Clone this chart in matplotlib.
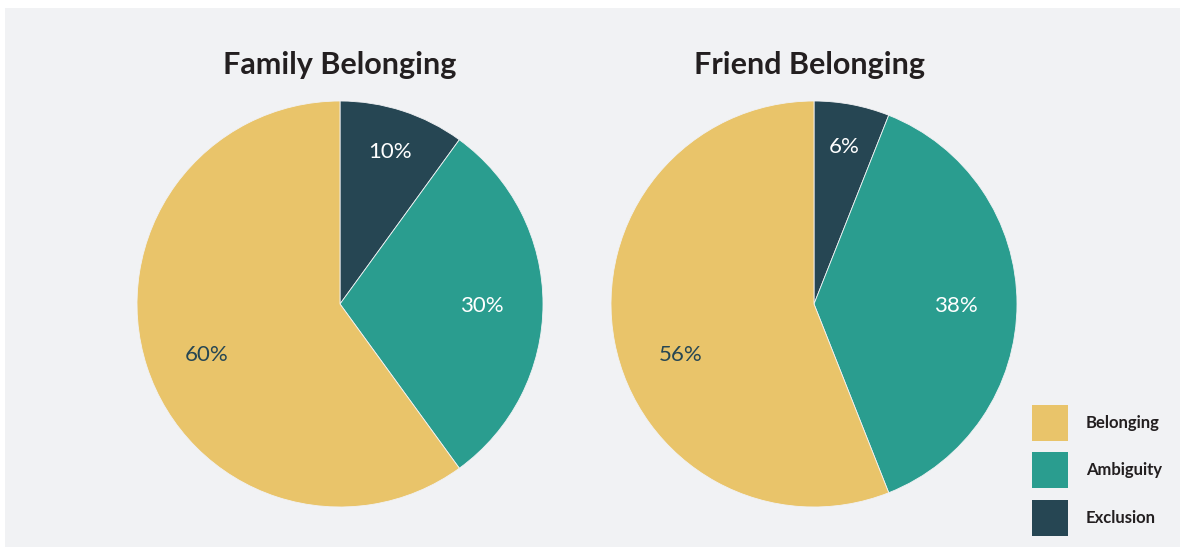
import matplotlib
matplotlib.use("Agg")
import matplotlib.pyplot as plt
from matplotlib.patches import Rectangle
import numpy as np

categories = ["Exclusion", "Ambiguity", "Belonging"]
family_values = [10, 30, 60]
friend_values = [6, 38, 56]
titles = ["Family Belonging", "Friend Belonging"]
legend_order = ["Belonging", "Ambiguity", "Exclusion"]

colors = {"Belonging": "#E9C46A", "Ambiguity": "#2A9D8F", "Exclusion": "#264653"}
label_colors = {"Belonging": "#264653", "Ambiguity": "white", "Exclusion": "white"}

W, H = 1180, 553
fig = plt.figure(figsize=(W / 100, H / 100), dpi=100)
fig.patch.set_facecolor("white")

bg = fig.add_axes([5 / W, (H - 547) / H, (W - 5) / W, (547 - 8) / H], zorder=-5)
bg.set_facecolor("#F1F2F4")
bg.set_xticks([]); bg.set_yticks([])
for s in bg.spines.values():
    s.set_visible(False)

FONT = "Lato"
centers = [340, 814]
R = 203
cy = 304
title_x = [340, 810]

for i, (vals, title) in enumerate(zip([family_values, friend_values], titles)):
    cx = centers[i]
    ax = fig.add_axes([(cx - R) / W, (H - cy - R) / H, 2 * R / W, 2 * R / H])
    ax.set_facecolor("none")
    wedges, _ = ax.pie(vals, colors=[colors[c] for c in categories], startangle=90,
                       counterclock=False, radius=1,
                       wedgeprops=dict(linewidth=0.6, edgecolor="#F1F2F4"))
    total = sum(vals)
    start = 90.0
    for v, c in zip(vals, categories):
        span = 360.0 * v / total
        mid_deg = start - span / 2
        if v > 50:
            mid_deg = max(mid_deg, -160.0)
        mid = np.deg2rad(mid_deg)
        d = 0.8 if v < 15 else 0.7
        ax.text(d * np.cos(mid), d * np.sin(mid) - 0.01, f"{v}%", ha="center", va="center",
                color=label_colors[c], fontsize=16, family=FONT)
        start -= span
    ax.set_xlim(-1, 1)
    ax.set_ylim(-1, 1)
    ax.set_aspect("equal")
    ax.axis("off")
    fig.text(title_x[i] / W, 1 - 65 / H, title, ha="center", va="center",
             fontsize=22, fontweight="bold", color="#231F20", family=FONT)

# legend drawn manually
sq = 36
tops = [405, 452, 500]
for c, top in zip(legend_order, tops):
    fig.patches.append(Rectangle((1032 / W, (H - top - sq) / H), sq / W, sq / H,
                                 transform=fig.transFigure, facecolor=colors[c],
                                 edgecolor="none", zorder=5))
    fig.text(1086 / W, 1 - (top + sq / 2) / H, c, ha="left", va="center",
             fontsize=12, fontweight="bold", color="#231F20", family=FONT)

fig.savefig("out.png", dpi=100, facecolor=fig.get_facecolor())
